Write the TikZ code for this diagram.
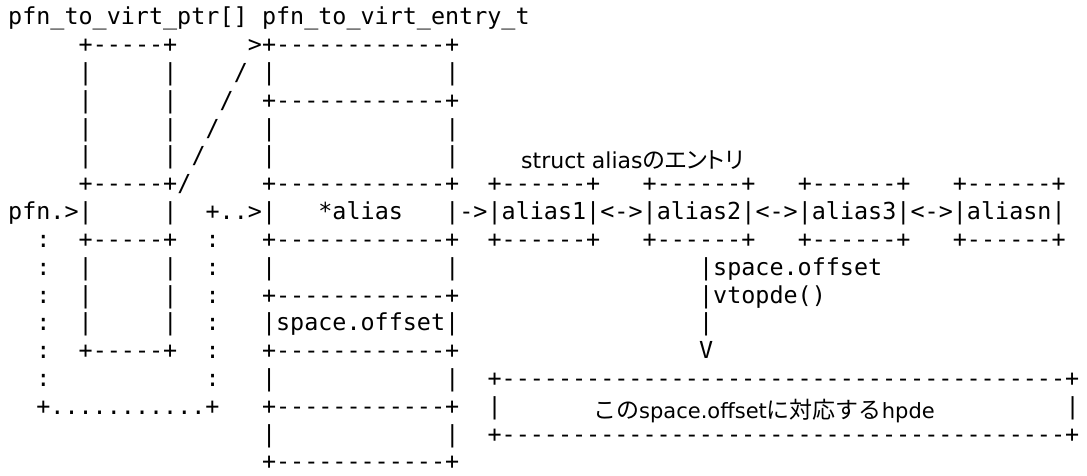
\documentclass[tikz,border=0pt]{standalone}
\usepackage{fontspec}
\newfontfamily\asciifont{DejaVu Sans Mono}
\newfontfamily\propfont{DejaVu Sans}
\newfontfamily\jafont{Noto Sans CJK JP}
\newfontfamily\jafontprop[RawFeature=+palt]{Noto Sans CJK JP}
\frenchspacing

% one character cell is 14.1pt wide, one text row is 27.8pt high
\tikzset{
  mono/.style={font=\asciifont\fontsize{23.4pt}{27.8pt}\selectfont,
               inner sep=0pt, anchor=base west},
  jptext/.style={inner sep=0pt, anchor=base west},
}
% \putrun{name}{column}{row}{characters}
\newcommand\putrun[4]{\node[mono] (#1) at ({8+14.1*(#2)},{-25-27.8*((#3)-1)}) {#4};}
\newcommand\latinpart[2][21pt]{{\propfont\fontsize{#1}{25pt}\selectfont #2}}
\newcommand\japart[1]{{\jafont\fontsize{23pt}{25pt}\selectfont #1}}
\newcommand\japartprop[1]{{\jafontprop\fontsize{23pt}{25pt}\selectfont #1}}

\begin{document}
\begin{tikzpicture}[x=1pt,y=1pt]
\fill[white] (0,0) rectangle (1087,-476);
\useasboundingbox (0,0) rectangle (1087,-476);

% headings
\putrun{hdrPtr}{0}{1}{pfn\_to\_virt\_ptr[]}
\putrun{hdrEntry}{18}{1}{pfn\_to\_virt\_entry\_t}

% pfn_to_virt_ptr[] array
\putrun{ptrTop}{5}{2}{+-----+}
\foreach \r in {3,...,6} {
  \putrun{ptrL\r}{5}{\r}{|}
  \putrun{ptrR\r}{11}{\r}{|}
}
\putrun{ptrMid}{5}{7}{+-----+}
\putrun{ptrSel}{0}{8}{pfn.>|}
\putrun{ptrSelR}{11}{8}{|}
\putrun{ptrLow}{5}{9}{+-----+}
\foreach \r in {10,...,12} {
  \putrun{ptrL\r}{5}{\r}{|}
  \putrun{ptrR\r}{11}{\r}{|}
}
\putrun{ptrEnd}{5}{13}{+-----+}

% dotted group around the selected slots
\foreach \r in {9,...,14} {
  \putrun{grpL\r}{2}{\r}{:}
  \putrun{grpR\r}{14}{\r}{:}
}
\putrun{grpArrow}{14}{8}{+..>}
\putrun{grpBot}{2}{15}{+...........+}

% diagonal pointer to the first entry
\putrun{diag7}{12}{7}{/}
\putrun{diag6}{13}{6}{/}
\putrun{diag5}{14}{5}{/}
\putrun{diag4}{15}{4}{/}
\putrun{diag3}{16}{3}{/}
\putrun{diagHead}{17}{2}{>}

% pfn_to_virt_entry_t column
\foreach \r in {2,4,7,9,11,13,15,17} {
  \putrun{entrySep\r}{18}{\r}{+------------+}
}
\foreach \r in {3,5,6,8,10,14,16} {
  \putrun{entryL\r}{18}{\r}{|}
  \putrun{entryR\r}{31}{\r}{|}
}
\putrun{entryAlias}{22}{8}{*alias}
\putrun{entryOffset}{18}{12}{|space.offset|}

% struct alias chain
\node[jptext] (aliasTitle) at (521,-168)
  {\latinpart[22pt]{struct alias}\japartprop{のエントリ}};
\foreach \c/\n in {34/1,45/2,56/3,67/n} {
  \putrun{aliasTop\n}{\c}{7}{+------+}
  \putrun{aliasBot\n}{\c}{9}{+------+}
}
\putrun{toAlias}{32}{8}{->}
\putrun{alias1}{34}{8}{|alias1|}
\putrun{link12}{42}{8}{<->}
\putrun{alias2}{45}{8}{|alias2|}
\putrun{link23}{53}{8}{<->}
\putrun{alias3}{56}{8}{|alias3|}
\putrun{link3n}{64}{8}{<->}
\putrun{aliasn}{67}{8}{|aliasn|}

% space.offset -> vtopde() -> hpde
\putrun{downA}{49}{10}{|space.offset}
\putrun{downB}{49}{11}{|vtopde()}
\putrun{downC}{49}{12}{|}
\putrun{downHead}{49}{13}{V}

% hpde box
\putrun{hpdeTop}{34}{14}{+----------------------------------------+}
\putrun{hpdeL}{34}{15}{|}
\putrun{hpdeR}{75}{15}{|}
\putrun{hpdeBot}{34}{16}{+----------------------------------------+}
\node[jptext] (hpdeText) at (593,-418)
  {\japart{この}\latinpart{space.offset}\japart{に対応する}\latinpart{hpde}};
\end{tikzpicture}
\end{document}
